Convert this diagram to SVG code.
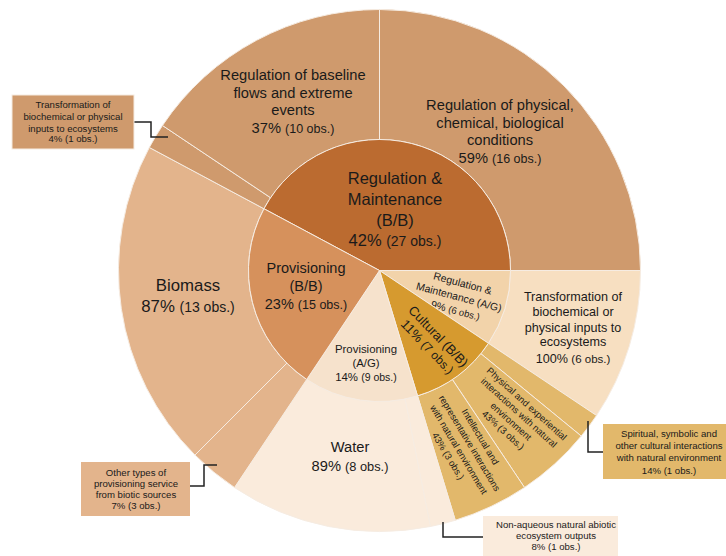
<svg xmlns="http://www.w3.org/2000/svg" width="726" height="556" viewBox="0 0 726 556">
<style>
text{font-family:"Liberation Sans",Arial,sans-serif;fill:#1a1a1a;text-anchor:middle}
.s{stroke:#f6ece2;stroke-width:1}
.lead{fill:none;stroke:#222222;stroke-width:1.5}
.rmI{fill:#bb6b30}.rmO{fill:#cf9a6d}
.pbI{fill:#d6915c}.pbO{fill:#e3b48c}
.paI{fill:#f6e2cc}.paO{fill:#faebdc}
.raI{fill:#f2d3aa}.raO{fill:#f7dfc1}
.cuI{fill:#d69a2f}.cuO{fill:#e2b86b}
.cb{font-size:9.6px}
</style>
<rect width="726" height="556" fill="#ffffff"/>
<g id="outer-ring">
<g id="reg-physical"><path class="rmO s" d="M379.5,139.5 L379.5,9.5 A261,261 0 0 1 640.5,270.5 L510.5,270.5 A131,131 0 0 0 379.5,139.5 Z"/>
<text font-size="14.7"><tspan x="500" y="110">Regulation of physical,</tspan><tspan x="500" y="128">chemical, biological</tspan><tspan x="500" y="145">conditions</tspan><tspan x="500" y="163">59% <tspan font-size="12.5">(16 obs.)</tspan></tspan></text></g>
<g id="transformation-ag"><path class="raO s" d="M510.5,270.5 L640.5,270.5 A261,261 0 0 1 596.52,415.51 L488.43,343.28 A131,131 0 0 0 510.5,270.5 Z"/>
<text font-size="12.6"><tspan x="573" y="300.5">Transformation of</tspan><tspan x="573" y="316">biochemical or</tspan><tspan x="573" y="331.5">physical inputs to</tspan><tspan x="573" y="346">ecosystems</tspan><tspan x="573" y="362.5">100% <tspan font-size="11.5">(6 obs.)</tspan></tspan></text></g>
<g id="spiritual"><path class="cuO s" d="M488.43,343.28 L596.52,415.51 A261,261 0 0 1 581.25,436.08 L480.76,353.61 A131,131 0 0 0 488.43,343.28 Z"/></g>
<g id="physical-experiential"><path class="cuO s" d="M480.76,353.61 L581.25,436.08 A261,261 0 0 1 524.51,487.52 L452.28,379.43 A131,131 0 0 0 480.76,353.61 Z"/>
<text font-size="9.4" transform="translate(515,417) rotate(42)"><tspan x="0" y="-14.4">Physical and experiential</tspan><tspan x="0" y="-2.6">interactions with natural</tspan><tspan x="0" y="9.2">environment</tspan><tspan x="0" y="21">43% (3 obs.)</tspan></text></g>
<g id="intellectual"><path class="cuO s" d="M452.28,379.43 L524.51,487.52 A261,261 0 0 1 455.27,520.25 L417.53,395.85 A131,131 0 0 0 452.28,379.43 Z"/>
<text font-size="9.4" transform="translate(464,446.5) rotate(59)"><tspan x="0" y="-15.8">Intellectual and</tspan><tspan x="0" y="-3.3">representative interactions</tspan><tspan x="0" y="9.3">with natural environment</tspan><tspan x="0" y="21.8">43% (3 obs.)</tspan></text></g>
<g id="non-aqueous"><path class="paO s" d="M417.53,395.85 L455.27,520.25 A261,261 0 0 1 430.42,526.49 L405.06,398.98 A131,131 0 0 0 417.53,395.85 Z"/></g>
<g id="water"><path class="paO s" d="M405.06,398.98 L430.42,526.49 A261,261 0 0 1 234.49,487.52 L306.72,379.43 A131,131 0 0 0 405.06,398.98 Z"/>
<text font-size="14.7"><tspan x="350" y="452">Water</tspan><tspan x="350" y="470.5">89% <tspan font-size="12.8">(8 obs.)</tspan></tspan></text></g>
<g id="other-types"><path class="pbO s" d="M306.72,379.43 L234.49,487.52 A261,261 0 0 1 194.95,455.05 L286.87,363.13 A131,131 0 0 0 306.72,379.43 Z"/></g>
<g id="biomass"><path class="pbO s" d="M286.87,363.13 L194.95,455.05 A261,261 0 0 1 149.32,147.46 L263.97,208.75 A131,131 0 0 0 286.87,363.13 Z"/>
<text font-size="16.8"><tspan x="188" y="291">Biomass</tspan><tspan x="188" y="312">87% <tspan font-size="14">(13 obs.)</tspan></tspan></text></g>
<g id="transformation-bb"><path class="rmO s" d="M263.97,208.75 L149.32,147.46 A261,261 0 0 1 162.48,125.49 L270.57,197.72 A131,131 0 0 0 263.97,208.75 Z"/></g>
<g id="reg-baseline"><path class="rmO s" d="M270.57,197.72 L162.48,125.49 A261,261 0 0 1 379.5,9.5 L379.5,139.5 A131,131 0 0 0 270.57,197.72 Z"/>
<text font-size="14.7"><tspan x="293" y="80">Regulation of baseline</tspan><tspan x="293" y="97.5">flows and extreme</tspan><tspan x="293" y="115">events</tspan><tspan x="293" y="133">37% <tspan font-size="12.5">(10 obs.)</tspan></tspan></text></g>
</g>
<g id="inner-ring">
<g id="rm-bb"><path class="rmI s" d="M379.5,270.5 L263.97,208.75 A131,131 0 0 1 510.5,270.5 Z"/>
<text font-size="16.5"><tspan x="395" y="184">Regulation &amp;</tspan><tspan x="395" y="205">Maintenance</tspan><tspan x="395" y="226">(B/B)</tspan><tspan x="395" y="246">42% <tspan font-size="14">(27 obs.)</tspan></tspan></text></g>
<g id="rm-ag"><path class="raI s" d="M379.5,270.5 L510.5,270.5 A131,131 0 0 1 488.43,343.28 Z"/>
<text font-size="10.5" transform="translate(459,297) rotate(15)"><tspan x="0" y="-10.5">Regulation &amp;</tspan><tspan x="0" y="3.7">Maintenance (A/G)</tspan><tspan x="0" y="17.5">9% <tspan font-size="9.5">(6 obs.)</tspan></tspan></text></g>
<g id="cultural-bb"><path class="cuI s" d="M379.5,270.5 L488.43,343.28 A131,131 0 0 1 417.53,395.85 Z"/>
<text font-size="13.2" transform="translate(433,341.5) rotate(46)"><tspan x="0" y="-2.9">Cultural (B/B)</tspan><tspan x="0" y="12.1">11% <tspan font-size="12">(7 obs.)</tspan></tspan></text></g>
<g id="prov-ag"><path class="paI s" d="M379.5,270.5 L417.53,395.85 A131,131 0 0 1 306.72,379.43 Z"/>
<text font-size="11.4"><tspan x="366" y="353">Provisioning</tspan><tspan x="366" y="367">(A/G)</tspan><tspan x="366" y="381">14% <tspan font-size="10.5">(9 obs.)</tspan></tspan></text></g>
<g id="prov-bb"><path class="pbI s" d="M379.5,270.5 L306.72,379.43 A131,131 0 0 1 263.97,208.75 Z"/>
<text font-size="14.5"><tspan x="306" y="273">Provisioning</tspan><tspan x="306" y="291">(B/B)</tspan><tspan x="306" y="308.5">23% <tspan font-size="12.5">(15 obs.)</tspan></tspan></text></g>
</g>
<g id="connectors">
<polyline class="lead" points="134,122 151,122 151,137 168,137"/>
<polyline class="lead" points="190,486 204,486 204,465 217,465"/>
<polyline class="lead" points="588,421 588,452 603,452"/>
<polyline class="lead" points="443,522 443,537 483,537"/>
</g>
<g id="callout-transformation">
<rect class="rmO" x="12" y="95" width="122" height="54" stroke="#f6ece2" stroke-width="1"/>
<text class="cb"><tspan x="73" y="107.5">Transformation of</tspan><tspan x="73" y="120">biochemical or physical</tspan><tspan x="73" y="131.5">inputs to ecosystems</tspan><tspan x="73" y="142">4% (1 obs.)</tspan></text>
</g>
<g id="callout-other">
<rect class="pbO" x="81" y="462" width="109" height="54"/>
<text class="cb"><tspan x="136" y="475.5">Other types of</tspan><tspan x="136" y="486.5">provisioning service</tspan><tspan x="136" y="497.5">from biotic sources</tspan><tspan x="136" y="509">7% (3 obs.)</tspan></text>
</g>
<g id="callout-spiritual">
<rect class="cuO" x="603" y="424" width="123" height="55"/>
<text class="cb" font-size="9.8"><tspan x="669" y="436.5">Spiritual, symbolic and</tspan><tspan x="669" y="448.5">other cultural interactions</tspan><tspan x="669" y="460.5">with natural environment</tspan><tspan x="669" y="473.5">14% (1 obs.)</tspan></text>
</g>
<g id="callout-nonaqueous">
<rect class="paO" x="483" y="516" width="135" height="40"/>
<text class="cb"><tspan x="556" y="527.5">Non-aqueous natural abiotic</tspan><tspan x="556" y="538.5">ecosystem outputs</tspan><tspan x="556" y="549.5">8% (1 obs.)</tspan></text>
</g>
</svg>
